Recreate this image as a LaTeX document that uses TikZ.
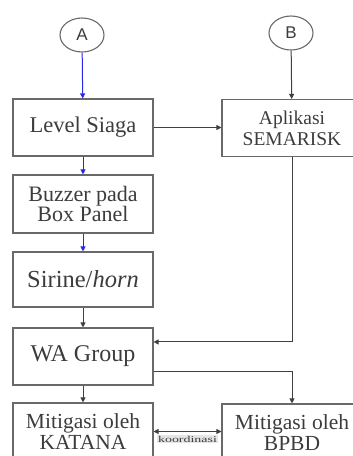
\documentclass[tikz,border=0pt]{standalone}
\usepackage{fontspec}
\usepackage{graphicx}
\setmainfont{Liberation Serif}
\newfontfamily\circfont{Liberation Sans}
\usetikzlibrary{arrows.meta,calc,shapes.geometric}
\definecolor{edge}{RGB}{105,105,105}
\definecolor{txt}{RGB}{60,60,60}
\definecolor{flowblue}{RGB}{40,40,235}
\tikzset{
  box/.style={draw=edge, line width=1.1pt, rectangle, minimum width=140pt, minimum height=57pt, inner sep=0pt, align=center, text=txt},
  circ/.style={draw=edge, line width=1.1pt, ellipse, minimum width=44pt, minimum height=34pt, inner sep=0pt, text=txt, font=\circfont\fontsize{17}{17}\selectfont},
  conn/.style={draw=black!75, line width=1pt, -{Triangle[length=5pt,width=5pt]}},
  bconn/.style={draw=flowblue, line width=1pt, -{Triangle[length=5pt,width=5pt]}},
}
\begin{document}
\begin{tikzpicture}[x=1pt,y=-1pt]
\useasboundingbox (0,0) rectangle (353,456);
\clip (0,0) rectangle (353,456);
\node[circ] (A) at (82,35) {A};
\node[circ] (B) at (291,33) {B};
\node[box, font=\fontsize{22.5}{24}\selectfont] (lvl) at (83,127.5) {Level Siaga};
\node[box, minimum height=58pt, font=\fontsize{22}{20}\selectfont] (buz) at (83,204) {Buzzer pada\\Box Panel};
\node[box, minimum height=55pt, font=\fontsize{24.5}{24}\selectfont] (sir) at (83,279.5) {Sirine/\textit{horn}};
\node[box, font=\fontsize{24}{24}\selectfont] (wa) at (83,356.5) {WA Group};
\node[box, font=\fontsize{21.5}{21}\selectfont] (kat) at (83,431.5) {Mitigasi oleh\\KATANA};
\node[box, font=\fontsize{19.5}{21}\selectfont] (sem) at (292,128) {Aplikasi\\SEMARISK};
\node[box, font=\fontsize{21.5}{21}\selectfont] (bpbd) at (292,432.5) {Mitigasi oleh\\BPBD};
\path[bconn] (A) -- (lvl);
\path[bconn] (lvl) -- (buz);
\path[bconn] (buz) -- (sir);
\path[conn] (sir) -- (wa);
\path[conn] (wa) -- (kat);
\path[conn] (B) -- (sem);
\path[conn] (lvl.east) -- (sem.west |- lvl.east);
\coordinate (wain) at ($(wa.north east)!0.25!(wa.south east)$);
\coordinate (waout) at ($(wa.north east)!0.75!(wa.south east)$);
\path[conn] (sem.south) |- (wain);
\path[conn] (waout) -| (bpbd.north);
\path[draw=black!75, line width=1pt, {Triangle[length=5pt,width=5pt]}-{Triangle[length=5pt,width=5pt]}] (kat.east) -- (kat.east -| bpbd.west)
  node[midway, below=3pt, fill=black!10, inner sep=0.8pt, text=txt, font=\fontsize{9}{9}\selectfont] (lbl) {\scalebox{1.55}[1]{koordinasi}};
\end{tikzpicture}
\end{document}
